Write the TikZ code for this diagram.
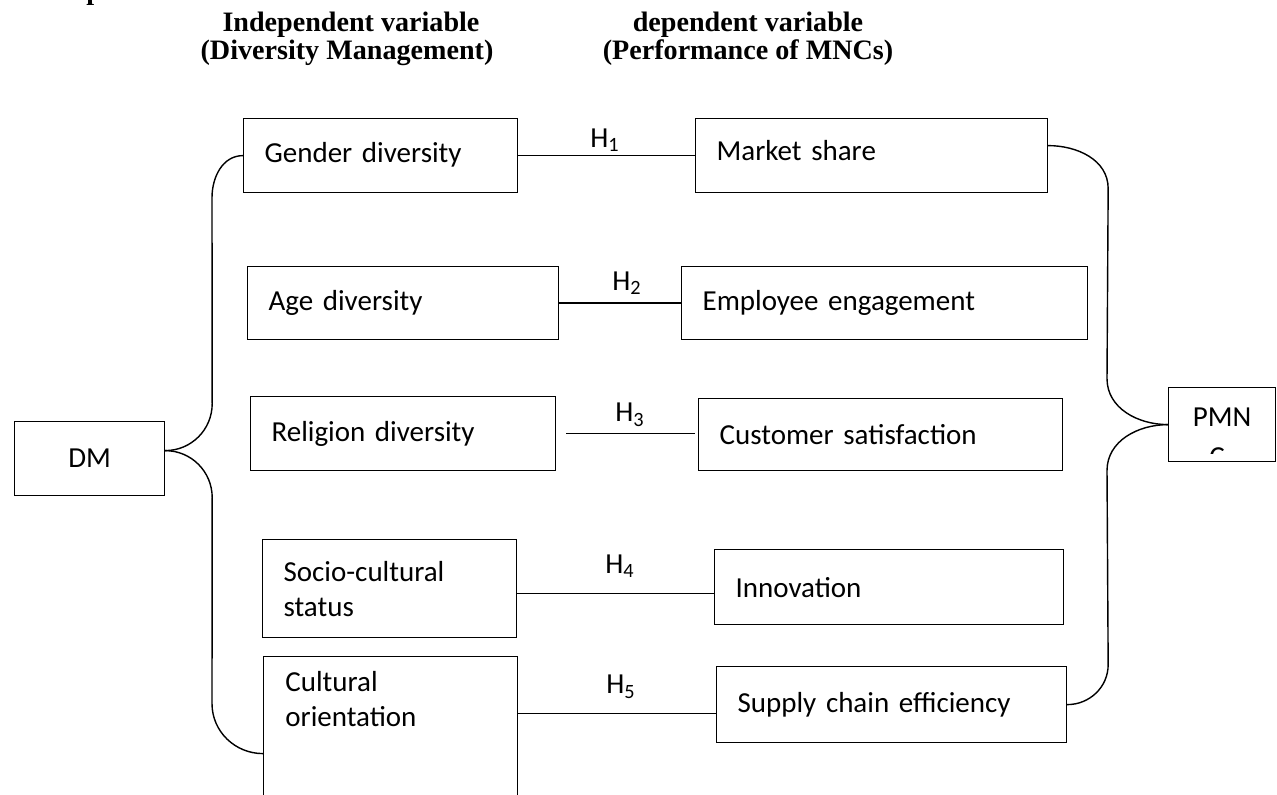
\documentclass[tikz,border=0pt]{standalone}
\usepackage{fontspec}
\setmainfont{Liberation Serif}
\newfontfamily\boxfont{Carlito}
\usetikzlibrary{calc}

\begin{document}
\begin{tikzpicture}[x=0.02cm, y=-0.02cm,
  box/.style={rectangle, draw, line width=0.7pt, anchor=north west, inner xsep=0.42cm, inner ysep=0pt, align=left, font=\boxfont\fontsize{16.5}{20}\selectfont},
  head/.style={anchor=base, font=\bfseries\fontsize{16}{19}\selectfont},
  hyp/.style={font=\boxfont\fontsize{16.5}{20}\selectfont},
  link/.style={line width=0.8pt},
  hline/.style={line width=0.7pt}]

  \clip (0,0) rectangle (1277,794);

  % headings
  \node[anchor=base west, inner sep=0pt, font=\bfseries\fontsize{16}{19}\selectfont] (top) at (86,0) {p};
  \node[head] (indep) at (351,32) {Independent variable};
  \node[head] (indepsub) at (347,60) {(Diversity Management)};
  \node[head] (dep) at (748,32) {dependent variable};
  \node[head] (depsub) at (748,60) {(Performance of MNCs)};

  % diversity side
  \node[box, align=center, text width=2.16cm, minimum height=1.48cm] (dm) at (14,421) {DM};
  \node[box, text width=4.64cm, minimum height=1.48cm, text depth=0.12cm] (gender) at (243,118) {Gender diversity};
  \node[box, text width=5.38cm, minimum height=1.46cm] (age) at (247,266) {Age diversity};
  \node[box, text width=5.26cm, minimum height=1.48cm] (relig) at (250,396) {Religion diversity};
  \node[box, text width=4.24cm, minimum height=1.96cm] (socio) at (262,539) {Socio-cultural\\status};
  \node[box, text width=4.24cm, minimum height=3.88cm] (cult) at (263,656) {};
  \node[anchor=north west, inner sep=0pt, align=left, font=\boxfont\fontsize{16.5}{20}\selectfont] (culttext) at (285,671) {Cultural\\orientation};

  % performance side
  \node[box, text width=6.20cm, minimum height=1.48cm, text depth=0.2cm] (market) at (695,118) {Market share};
  \node[box, text width=7.28cm, minimum height=1.46cm] (employee) at (681,266) {Employee engagement};
  \node[box, text width=6.44cm, minimum height=1.44cm] (customer) at (698,398) {Customer satisfaction};
  \node[box, text width=6.14cm, minimum height=1.50cm] (innov) at (714,549) {Innovation};
  \node[box, text width=6.16cm, minimum height=1.52cm] (supply) at (716,666) {Supply chain efficiency};
  \node[box, align=center, text width=1.30cm, minimum height=1.48cm, text depth=0.3cm] (pmn) at (1168,387) {PMN};
  \begin{scope}
    \clip (1168,440) rectangle (1275,453);
    \node[anchor=base, inner sep=0pt, font=\boxfont\fontsize{16.5}{20}\selectfont] (pmnc) at (1217,466) {C};
  \end{scope}

  % hypotheses
  \node[hyp] (h1) at (605,140) {H\textsubscript{1}};
  \node[hyp] (h2) at (627,283) {H\textsubscript{2}};
  \node[hyp] (h3) at (630,415) {H\textsubscript{3}};
  \node[hyp] (h4) at (620,566) {H\textsubscript{4}};
  \node[hyp] (h5) at (621,687) {H\textsubscript{5}};

  \coordinate (h4l) at ([yshift=-0.1cm]socio.east);
  \coordinate (h5r) at ([yshift=-0.18cm]supply.west);
  \draw[hline] (gender.east) -- (market.west);
  \draw[hline] (age.east) -- (employee.west);
  \draw[hline] ([xshift=0.2cm]relig.east) -- ([xshift=-0.06cm]customer.west |- relig.east);
  \draw[hline] (h4l) -- (h4l -| innov.west);
  \draw[hline] (h5r -| cult.east) -- (h5r);

  % braces
  \coordinate (dmj) at ([yshift=0.16cm]dm.east);
  \coordinate (msj) at ([yshift=0.2cm]market.east);
  \draw[link] (dmj) to[out=0,in=-90] ++(47,-47) -- ($(gender.west)+(-31,42)$) to[out=90,in=180] (gender.west);
  \draw[link] (dmj) to[out=0,in=90] ++(47,47) -- ($(cult.west)+(-51,-50)$) to[out=-90,in=180] (cult.west);
  \draw[link] (msj) to[out=0,in=90] ++(60,43) -- ($(pmn.west)+(-61,-46)$) to[out=-90,in=180] (pmn.west);
  \draw[link] (pmn.west) to[out=180,in=90] ++(-61,46) -- ($(supply.east)+(41,-40)$) to[out=-90,in=0] (supply.east);
\end{tikzpicture}
\end{document}
